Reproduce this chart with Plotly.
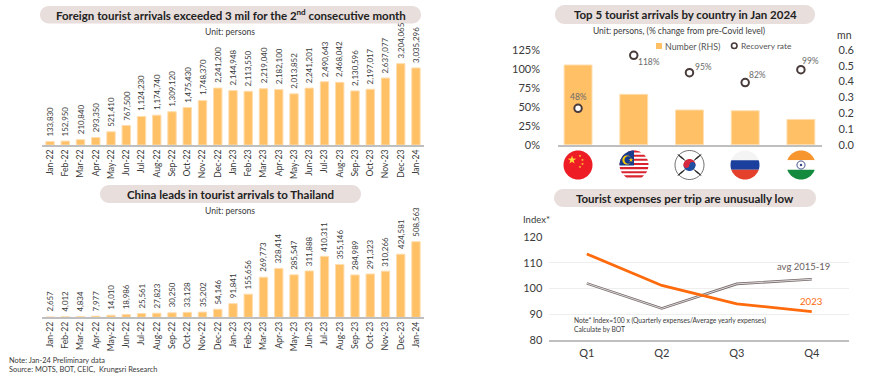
import math
import plotly.graph_objects as go

FONT = "Lato"
W, H = 870, 388

months = ["Jan-22","Feb-22","Mar-22","Apr-22","May-22","Jun-22","Jul-22","Aug-22","Sep-22","Oct-22","Nov-22","Dec-22",
          "Jan-23","Feb-23","Mar-23","Apr-23","May-23","Jun-23","Jul-23","Aug-23","Sep-23","Oct-23","Nov-23","Dec-23","Jan-24"]
foreign = [133830,152950,210840,293350,521410,767500,1124230,1174740,1309120,1475430,1748370,2241200,
           2144948,2113550,2219040,2182100,2013852,2241201,2490643,2468042,2130596,2197017,2637077,3204065,3035296]
china = [2657,4012,4834,7977,14010,18986,25561,27823,30250,33128,35202,54146,
         91841,155656,269773,328414,285547,311888,410311,355146,284989,291323,310266,424581,508563]
countries = ["China","Malaysia","South Korea","Russia","India"]
number_mn = [0.505,0.319,0.22,0.215,0.16]
recovery = [48,118,95,82,99]
recovery_labels = ["48%","118%","95%","82%","99%"]
pct_ticks = [0,25,50,75,100,125]
pct_tick_labels = ["0%","25%","50%","75%","100%","125%"]
mn_ticks = [0,0.1,0.2,0.3,0.4,0.5,0.6]
mn_tick_labels = ["0.0","0.1","0.2","0.3","0.4","0.5","0.6"]
quarters = ["Q1","Q2","Q3","Q4"]
exp_2023 = [113.5,101.2,94.0,91.0]
exp_avg = [102.0,92.2,101.8,103.6]

BAR = "#FFC066"
EDGE = "#FFDDAE"
PILL = "#E8DEDC"
TXT = "#3A3A3A"
AXIS = "#BFBFBF"
ORANGE = "#FF6A0D"


def X(p):
    return p / W


def Y(p):
    return 1 - p / H


def fmt(v):
    return f"{v:,}"


fig = go.Figure()
shapes = []
annots = []

# --- monthly bars
for vals, xa, ya in [(foreign, "x", "y"), (china, "x2", "y2")]:
    fig.add_trace(go.Bar(x=months, y=vals, xaxis=xa, yaxis=ya, width=0.55, showlegend=False,
                         marker=dict(color=BAR, line=dict(color=EDGE, width=1))))
    for m, v in zip(months, vals):
        annots.append(dict(xref=xa, yref=ya, x=m, y=v, text=fmt(v), textangle=-90, showarrow=False,
                           xanchor="center", yanchor="bottom", yshift=5, borderpad=0, borderwidth=0,
                           font=dict(family=FONT, size=7.9, color=TXT)))

# --- top-5 chart
fig.add_trace(go.Bar(x=countries, y=number_mn, xaxis="x3", yaxis="y3", width=0.5, name="Number (RHS)", showlegend=False,
                     marker=dict(color=BAR, line=dict(color=EDGE, width=1))))
fig.add_trace(go.Scatter(x=countries, y=recovery, xaxis="x3", yaxis="y4", mode="markers", name="Recovery rate",
                         showlegend=False, cliponaxis=False,
                         marker=dict(size=7.5, color="white", line=dict(color="#4A3B3B", width=2))))
label_shift = [(0, 11), (15, -7), (14, 6), (12, 8), (10, 9)]
for c, v, t, (sx, sy) in zip(countries, recovery, recovery_labels, label_shift):
    annots.append(dict(xref="x3", yref="y4", x=c, y=v, text=t, showarrow=False, xshift=sx, yshift=sy,
                       xanchor="center", yanchor="middle", font=dict(family=FONT, size=8.5, color="#6A6A6A")))

# --- expenses
fig.add_trace(go.Scatter(x=quarters, y=exp_avg, xaxis="x4", yaxis="y5", mode="lines", showlegend=False,
                         line=dict(color="#786C6C", width=2.6)))
fig.add_trace(go.Scatter(x=quarters, y=exp_avg, xaxis="x4", yaxis="y5", mode="lines", showlegend=False,
                         line=dict(color="#E9E5E5", width=0.9)))
fig.add_trace(go.Scatter(x=quarters, y=exp_2023, xaxis="x4", yaxis="y5", mode="lines", showlegend=False,
                         line=dict(color=ORANGE, width=2.8)))

month_x = dict(type="category", tickangle=-90, showline=True, linecolor=AXIS, linewidth=2, ticks="",
               showgrid=False, zeroline=False, tickfont=dict(family=FONT, size=8.6, color=TXT),
               tickmode="array", tickvals=months, ticktext=months, automargin=False, ticklabelstandoff=-1)
no_y = dict(visible=False, showgrid=False, zeroline=False, fixedrange=True, automargin=False)
tick_font = dict(family=FONT, size=11, color=TXT)

fig.update_layout(
    template="none",
    width=W, height=H, autosize=False, margin=dict(l=0, r=0, t=0, b=0, pad=0),
    paper_bgcolor="white", plot_bgcolor="white", barmode="overlay", showlegend=False,
    font=dict(family=FONT, color=TXT),
    xaxis=dict(month_x, domain=[X(42.4), X(423.6)], anchor="y"),
    yaxis=dict(no_y, domain=[Y(145), Y(15)], range=[0, 5120000], anchor="x"),
    xaxis2=dict(month_x, domain=[X(42.4), X(423.6)], anchor="y2"),
    yaxis2=dict(no_y, domain=[Y(317.3), Y(200)], range=[0, 789000], anchor="x2"),
    xaxis3=dict(type="category", domain=[X(558), X(821.5)], range=[-0.36, 4.37], anchor="y3",
                showticklabels=False, ticks="", showline=True, linecolor=AXIS, linewidth=1.5,
                showgrid=False, zeroline=False, automargin=False),
    yaxis3=dict(domain=[Y(144.7), Y(50)], range=[0, 0.6], side="right", anchor="x3", automargin=False,
                tickmode="array", tickvals=mn_ticks, ticktext=mn_tick_labels, showgrid=False, zeroline=False,
                showline=False, ticks="", ticklabelstandoff=16, tickfont=tick_font),
    yaxis4=dict(domain=[Y(144.7), Y(50)], range=[0, 125], side="left", overlaying="y3", anchor="x3", automargin=False,
                tickmode="array", tickvals=pct_ticks, ticktext=pct_tick_labels, showgrid=False, zeroline=False,
                showline=False, ticks="", ticklabelstandoff=17, tickfont=tick_font),
    xaxis4=dict(type="category", domain=[X(549.3), X(849.3)], range=[-0.5, 3.5], anchor="y5", ticks="",
                showline=True, linecolor=AXIS, linewidth=2, showgrid=False, zeroline=False, automargin=False,
                ticklabelstandoff=2, tickfont=tick_font),
    yaxis5=dict(domain=[Y(339.7), Y(237.3)], range=[80, 120], anchor="x4", automargin=False,
                tickvals=[80, 90, 100, 110, 120], showgrid=True, gridcolor="#EEEEEE", gridwidth=1, zeroline=False,
                showline=False, ticks="", ticklabelstandoff=6, tickfont=tick_font),
)


def note(x, y, text, size, color=TXT, anchor="center"):
    annots.append(dict(xref="paper", yref="paper", x=X(x), y=Y(y), text=text, showarrow=False, xanchor=anchor,
                       yanchor="middle", align="left", font=dict(family=FONT, size=size, color=color)))


def pill(x0, x1, y0, y1, text, size=11.5):
    r = (y1 - y0) / 2
    k = 0.55 * r
    d = (f"M {X(x0+r)} {Y(y0)} L {X(x1-r)} {Y(y0)} "
         f"C {X(x1-r+k)} {Y(y0)} {X(x1)} {Y(y0+r-k)} {X(x1)} {Y(y0+r)} "
         f"C {X(x1)} {Y(y0+r+k)} {X(x1-r+k)} {Y(y1)} {X(x1-r)} {Y(y1)} "
         f"L {X(x0+r)} {Y(y1)} "
         f"C {X(x0+r-k)} {Y(y1)} {X(x0)} {Y(y0+r+k)} {X(x0)} {Y(y0+r)} "
         f"C {X(x0)} {Y(y0+r-k)} {X(x0+r-k)} {Y(y0)} {X(x0+r)} {Y(y0)} Z")
    shapes.append(dict(type="path", xref="paper", yref="paper", path=d, fillcolor=PILL, line_width=0, layer="below"))
    note((x0 + x1) / 2, (y0 + y1) / 2, f"<b>{text}</b>", size, "#222222")


pill(40, 421, 6, 23.5, "Foreign tourist arrivals exceeded 3 mil for the 2<sup>nd</sup> consecutive month")
pill(100, 361, 185, 203, "China leads in tourist arrivals to Thailand")
pill(555, 815, 5, 24, "Top 5 tourist arrivals by country in Jan 2024")
pill(554, 816, 189, 207, "Tourist expenses per trip are unusually low")

note(230, 32, "Unit: persons", 8.6)
note(230, 211, "Unit: persons", 8.6)
note(679, 31, "Unit: persons, (% change from pre-Covid level)", 8.5)
note(834.5, 35, "mn", 10.5, anchor="left")
note(520.5, 219, "Index*", 9.5, anchor="left")
note(7, 360, "Note: Jan-24 Preliminary data", 7.4, anchor="left")
note(7, 369, "Source: MOTS, BOT, CEIC,  Krungsri Research", 7.4, anchor="left")
note(571.5, 320, "Note* Index=100 x (Quarterly expenses/Average yearly expenses)", 6.7, anchor="left")
note(571.5, 329, "Calculate by BOT", 6.7, anchor="left")
note(803, 266, "avg 2015-19", 9.5, "#6A6060")
note(811, 301, "2023", 9.7, ORANGE)

# legend key of the top-5 chart
shapes.append(dict(type="rect", xref="paper", yref="paper", x0=X(656), x1=X(662), y0=Y(43), y1=Y(49),
                   fillcolor=BAR, line_width=0))
shapes.append(dict(type="circle", xref="paper", yref="paper", x0=X(731.5), x1=X(737), y0=Y(43), y1=Y(48.5),
                   fillcolor="white", line=dict(color="#4A3B3B", width=1.6)))
note(663, 46, "Number (RHS)", 8.8, "#555555", anchor="left")
note(738.5, 46, "Recovery rate", 8.4, "#555555", anchor="left")


# --- flags
def clip(poly, axis, val, keep_less):
    out = []
    for i, a in enumerate(poly):
        b = poly[(i + 1) % len(poly)]
        ain = (a[axis] <= val) == keep_less or a[axis] == val
        bin_ = (b[axis] <= val) == keep_less or b[axis] == val
        if ain:
            out.append(a)
        if ain != bin_:
            t = (val - a[axis]) / (b[axis] - a[axis])
            out.append((a[0] + t * (b[0] - a[0]), a[1] + t * (b[1] - a[1])))
    return out


def circle(cx, cy, r, n=48):
    return [(cx + r * math.cos(2 * math.pi * i / n), cy + r * math.sin(2 * math.pi * i / n)) for i in range(n)]


def poly_shape(pts, color, line=None, lw=0):
    if len(pts) < 3:
        return
    d = "M " + " L ".join(f"{X(p[0])} {Y(p[1])}" for p in pts) + " Z"
    shapes.append(dict(type="path", xref="paper", yref="paper", path=d, fillcolor=color,
                       line=dict(color=line or color, width=lw)))


def band(cx, cy, r, y0, y1, color, x0=None, x1=None):
    pts = clip(clip(circle(cx, cy, r), 1, y0, False), 1, y1, True)
    if x0 is not None:
        pts = clip(pts, 0, x0, False)
    if x1 is not None:
        pts = clip(pts, 0, x1, True)
    poly_shape(pts, color)


def star(cx, cy, r, color):
    pts = []
    for i in range(10):
        a = -math.pi / 2 + i * math.pi / 5
        rr = r if i % 2 == 0 else r * 0.4
        pts.append((cx + rr * math.cos(a), cy + rr * math.sin(a)))
    poly_shape(pts, color)


FY, FR = 165, 14.5
centers = [578, 634, 689.5, 745, 801]

# China
cx = centers[0]
poly_shape(circle(cx, FY, FR), "#EE1C25")
star(cx - 6, FY - 5, 4.4, "#FFD53A")
for dx, dy in [(2, -9), (4.5, -5), (4.5, -1), (2, 2)]:
    star(cx + dx, FY + dy, 1.5, "#FFD53A")

# Malaysia
cx = centers[1]
poly_shape(circle(cx, FY, FR), "white")
for i in range(7):
    y0 = FY - FR + i * 4.14
    band(cx, FY, FR, y0, y0 + 2.07, "#D9232E")
band(cx, FY, FR, FY - FR, FY + 0.5, "#1A3C8C", x1=cx)
poly_shape(circle(cx - 7, FY - 5, 4.6), "#FFCC00")
poly_shape(circle(cx - 5.7, FY - 5, 3.8), "#1A3C8C")
star(cx - 3, FY - 5, 2.4, "#FFCC00")

# South Korea
cx = centers[2]
poly_shape(circle(cx, FY, FR), "white", "#333333", 0.7)
band(cx, FY, 6, FY - 6, FY, "#D6293E")
band(cx, FY, 6, FY, FY + 6, "#1F4FA3")
poly_shape(circle(cx - 3, FY, 3), "#D6293E")
poly_shape(circle(cx + 3, FY, 3), "#1F4FA3")
for sx, sy in [(-1, -1), (1, -1), (-1, 1), (1, 1)]:
    mx, my = cx + sx * 8, FY + sy * 7.5
    for k in (-2, 0, 2):
        a, b = (mx + k * sy * 0.7 * sx - 2.4, my + k * 0.7 - sx * sy * 1.6), (mx + k * sy * 0.7 * sx + 2.4, my + k * 0.7 + sx * sy * 1.6)
        shapes.append(dict(type="line", xref="paper", yref="paper", x0=X(a[0]), y0=Y(a[1]), x1=X(b[0]), y1=Y(b[1]),
                           line=dict(color="#222222", width=1)))

# Russia
cx = centers[3]
band(cx, FY, FR, FY - FR, FY - FR / 3, "#F4F4F4")
band(cx, FY, FR, FY - FR / 3, FY + FR / 3, "#1B3F9C")
band(cx, FY, FR, FY + FR / 3, FY + FR, "#E4402B")

# India
cx = centers[4]
band(cx, FY, FR, FY - FR, FY - FR / 3, "#F7962E")
band(cx, FY, FR, FY - FR / 3, FY + FR / 3, "#FFFFFF")
band(cx, FY, FR, FY + FR / 3, FY + FR, "#138A3E")
poly_shape(circle(cx, FY, 4), "#FFFFFF", "#2C3E80", 1)
poly_shape(circle(cx, FY, 1.2), "#2C3E80")

fig.update_layout(shapes=shapes, annotations=annots)

fig.write_html("out.html", post_script="document.body.style.margin='0';document.body.style.overflow='hidden';",
               config={"displayModeBar": False})
